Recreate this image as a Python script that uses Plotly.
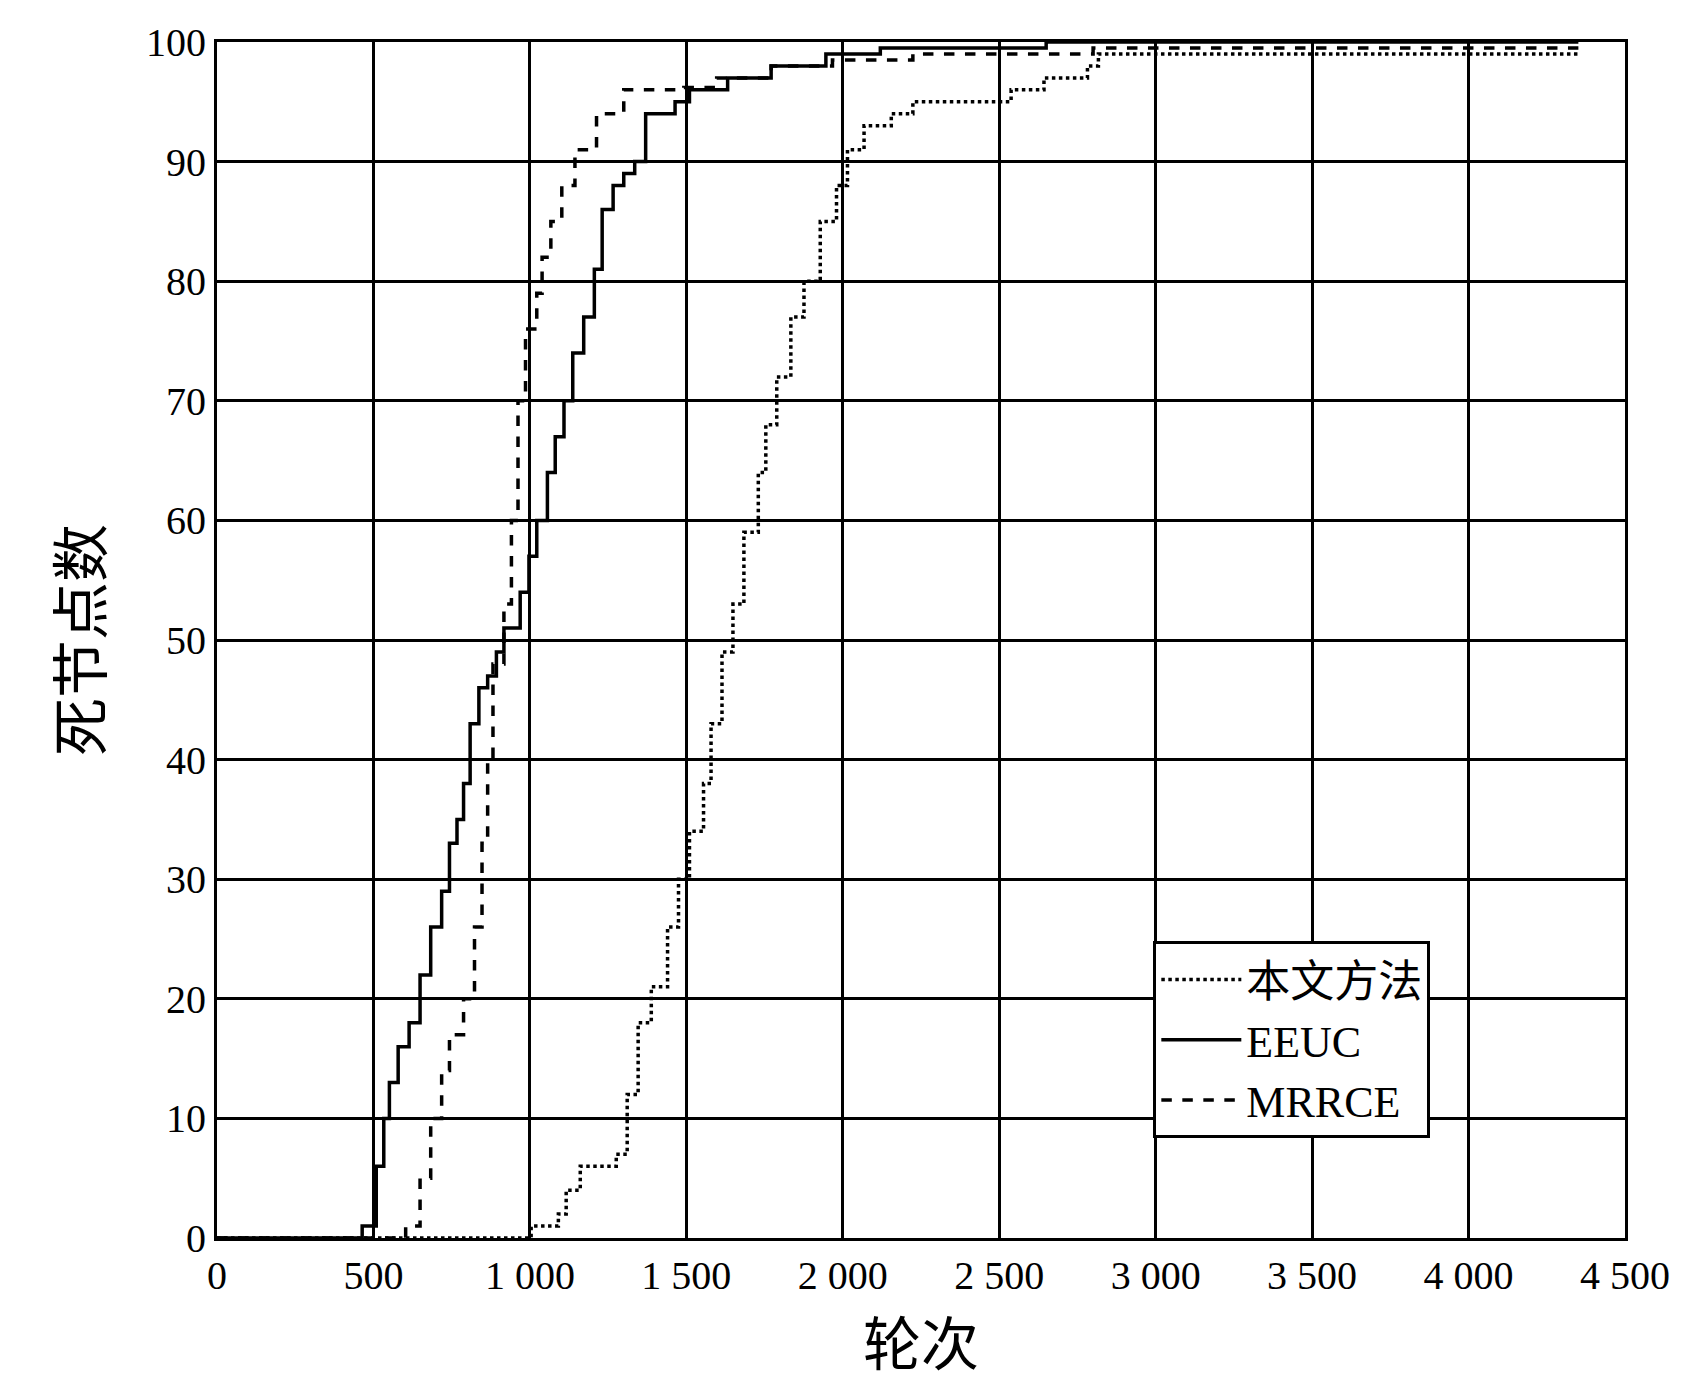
import plotly.graph_objects as go

eeuc_x = [0,464,498,509,533,551,579,614,649,683,718,743,767,788,809,837,865,893,917,969,997,1022,1056,1081,1109,1137,1172,1206,1231,1266,1300,1335,1370,1464,1510,1632,1771,1946,2120,2650,4351]
eeuc_y = [0,1,1,6,10,13,16,18,22,26,29,33,35,38,43,46,47,49,51,54,57,60,64,67,70,74,77,81,86,88,89,90,94,95,96,97,98,99,99.5,100,100]
mrrce_x = [0,603,620,649,683,718,743,788,823,847,865,882,917,941,962,986,1022,1039,1067,1102,1144,1213,1300,1492,1597,1771,1967,2224,2800,4351]
mrrce_y = [0,1,1,5,10,14,17,20,26,33,40,48,53,60,70,76,79,82,85,88,91,94,96,96.2,97,98,98.5,99,99.5,99.5]
ours_x = [0,997,1004,1074,1091,1116,1161,1276,1311,1346,1388,1440,1475,1510,1555,1579,1614,1649,1684,1730,1754,1789,1834,1876,1928,1980,2015,2068,2155,2224,2538,2643,2782,2817,4351]
ours_y = [0,0,1,1,2,4,6,7,12,18,21,26,30,34,38,43,49,53,59,64,68,72,77,80,85,88,91,93,94,95,96,97,98,99,99]

xticks = list(range(0, 4501, 500))
xlabels = ["0","500","1 000","1 500","2 000","2 500","3 000","3 500","4 000","4 500"]

fig = go.Figure()
for name, xs, ys, dash in [("本文方法", ours_x, ours_y, "dot"), ("EEUC", eeuc_x, eeuc_y, "solid"), ("MRRCE", mrrce_x, mrrce_y, "dash")]:
    fig.add_trace(go.Scatter(x=xs, y=ys, name=name, mode="lines", line_shape="hv",
                             line=dict(color="black", width=3.5, dash=dash)))

axis = dict(showline=True, linecolor="black", linewidth=3, mirror=True, showgrid=True,
            gridcolor="black", gridwidth=3, zeroline=False, ticks="",
            tickfont=dict(family="Liberation Serif", size=40, color="black"))
fig.update_layout(
    width=1701, height=1399, paper_bgcolor="white", plot_bgcolor="white",
    margin=dict(l=209, r=84, t=22, b=169),
    xaxis=dict(axis, range=[0, 4500], tickvals=xticks, ticktext=xlabels,
               title=dict(text="轮次", font=dict(family="Noto Sans CJK SC", size=58, color="black"), standoff=20)),
    yaxis=dict(axis, range=[0, 100], tickvals=list(range(0, 101, 10)),
               title=dict(text="死节点数", font=dict(family="Noto Sans CJK SC", size=58, color="black"), standoff=25)),
    legend=dict(x=0.665, y=0.248, xanchor="left", yanchor="top", bgcolor="white",
                bordercolor="black", borderwidth=3, itemwidth=80, tracegroupgap=10,
                font=dict(family="Liberation Serif, Noto Sans CJK SC", size=44, color="black")),
    showlegend=True,
)
fig.write_html("out.html")
